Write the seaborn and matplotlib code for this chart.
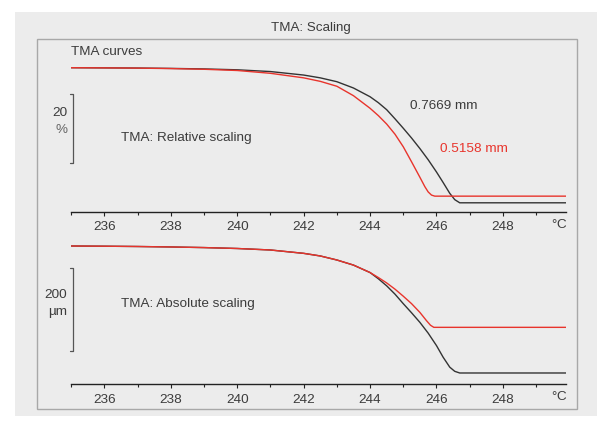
import numpy as np
import pandas as pd
import matplotlib
matplotlib.use("Agg")
import matplotlib.pyplot as plt
from matplotlib.patches import Rectangle
from matplotlib.lines import Line2D
from matplotlib.ticker import MultipleLocator
import seaborn as sns

# --- data (drop from start value) ---
temp_rel_black = [235, 236, 237, 238, 239, 240, 241, 242, 242.5, 243, 243.5, 244, 244.25, 244.5,
                  244.75, 245.0, 245.25, 245.5, 245.75, 246.0, 246.2, 246.4, 246.55, 246.7, 247, 248, 249.9]
rel_black = [0, 0.05, 0.1, 0.2, 0.35, 0.6, 1.1, 2.1, 2.9, 4.0, 5.8, 8.3, 10.0, 12.0,
             14.6, 17.3, 20.1, 23.1, 26.3, 29.8, 32.8, 35.9, 37.7, 38.6, 38.6, 38.6, 38.6]

temp_rel_red = [235, 236, 237, 238, 239, 240, 241, 242, 242.5, 243, 243.5, 244, 244.25, 244.5,
                244.75, 245.0, 245.25, 245.5, 245.65, 245.75, 245.85, 245.95, 246.2, 247, 248, 249.9]
rel_red = [0, 0.05, 0.12, 0.25, 0.45, 0.8, 1.6, 2.9, 3.9, 5.3, 8.0, 11.6, 13.7, 16.1,
           19.0, 22.6, 26.9, 31.3, 34.0, 35.5, 36.4, 36.7, 36.7, 36.7, 36.7, 36.7]

temp_abs_black = [235, 236, 237, 238, 239, 240, 241, 242, 242.5, 243, 243.5, 244, 244.25, 244.5,
                  244.75, 245.0, 245.25, 245.5, 245.75, 246.0, 246.2, 246.4, 246.55, 246.7, 247, 248, 249.9]
abs_black = [0, 0.5, 1.2, 2.3, 3.8, 6.0, 9.6, 17.7, 24, 33.7, 46, 64, 79, 96,
             116, 139, 161, 184, 210, 240, 268, 292, 302, 306, 306, 306, 306]

temp_abs_red = [235, 236, 237, 238, 239, 240, 241, 242, 242.5, 243, 243.5, 244, 244.25, 244.5,
                244.75, 245.0, 245.25, 245.5, 245.7, 245.82, 245.92, 246.2, 247, 248, 249.9]
abs_red = [0, 0.5, 1.2, 2.3, 3.8, 6.0, 9.6, 17.7, 24, 33.7, 46, 64, 76, 89,
           104, 121, 139, 160, 180, 191, 196, 196, 196, 196, 196]

x_major = [236, 238, 240, 242, 244, 246, 248]
labels = ["0.7669 mm", "0.5158 mm"]

BLACK = "#333333"
RED = "#e8342c"
GREY_TXT = "#3c3c3c"
BG = "#ececec"
FS = 9.7

sns.set_style("white")
plt.rcParams["font.family"] = ["Liberation Sans", "DejaVu Sans"]

W, H = 603, 426
fig = plt.figure(figsize=(W / 100, H / 100), dpi=100, facecolor="white")


def fx(x):
    return x / W


def fy(y):
    return 1 - y / H


# backgrounds
fig.patches.append(Rectangle((fx(15), fy(416)), fx(597) - fx(15), fy(12) - fy(416),
                             transform=fig.transFigure, facecolor=BG, edgecolor="none", zorder=-2))
fig.patches.append(Rectangle((fx(36.5), fy(409)), fx(576.5) - fx(36.5), fy(39) - fy(409),
                             transform=fig.transFigure, facecolor=BG, edgecolor="#a8a8a8",
                             linewidth=1.0, zorder=-1))

rel_df = pd.concat([
    pd.DataFrame({"T": temp_rel_black, "v": -np.array(rel_black), "s": labels[0]}),
    pd.DataFrame({"T": temp_rel_red, "v": -np.array(rel_red), "s": labels[1]}),
])
abs_df = pd.concat([
    pd.DataFrame({"T": temp_abs_black, "v": -np.array(abs_black), "s": labels[0]}),
    pd.DataFrame({"T": temp_abs_red, "v": -np.array(abs_red), "s": labels[1]}),
])

x_left, x_right = 71.2, 566
ax_top = fig.add_axes([fx(x_left), fy(211.7), fx(x_right) - fx(x_left), fy(50) - fy(211.7)])
ax_bot = fig.add_axes([fx(x_left), fy(384.3), fx(x_right) - fx(x_left), fy(235) - fy(384.3)])

# pixel scale: top 3.5 px per %, start at y=67.7 ; bottom 83 px per 200 um, start at y=246
top_ylim = (-(211.7 - 67.7) / 3.5, (67.7 - 50) / 3.5)
bot_ylim = (-(384.3 - 246) * 200 / 83, (246 - 235) * 200 / 83)

for ax, df, ylim in [(ax_top, rel_df, top_ylim), (ax_bot, abs_df, bot_ylim)]:
    ax.set_zorder(3)
    ax.set_facecolor("none")
    sns.lineplot(data=df, x="T", y="v", hue="s", palette=[BLACK, RED], sort=False,
                 linewidth=1.0, legend=False, ax=ax)
    ax.set_xlim(235, 249.9)
    ax.set_ylim(*ylim)
    for side in ["top", "left", "right"]:
        ax.spines[side].set_visible(False)
    ax.spines["bottom"].set_color("#222222")
    ax.spines["bottom"].set_linewidth(1.0)
    ax.set_xticks(x_major)
    ax.xaxis.set_minor_locator(MultipleLocator(1))
    ax.tick_params(axis="x", which="both", direction="out", length=3, width=0.8,
                   color="#222222", labelsize=FS, labelcolor=GREY_TXT, pad=4, bottom=True)
    ax.tick_params(axis="x", which="minor", length=2.5)
    ax.set_yticks([])
    ax.set_xlabel("")
    ax.set_ylabel("")

ftext_kw = dict(va="center", fontsize=FS, color=GREY_TXT)
for y in (225, 397.5):
    fig.text(fx(557), fy(y), "°", ha="right", **ftext_kw)
    fig.text(fx(566), fy(y), "C", ha="right", **ftext_kw)


def bracket(y0, y1, x=73.3):
    pts_x = [fx(x - 3), fx(x), fx(x), fx(x - 3)]
    pts_y = [fy(y0), fy(y0), fy(y1), fy(y1)]
    fig.add_artist(Line2D(pts_x, pts_y, transform=fig.transFigure, color="#555555", linewidth=0.9))


bracket(93.5, 162.7)
bracket(267.7, 351)


def ftext(x, y, s, **kw):
    kw.setdefault("fontsize", FS)
    kw.setdefault("color", GREY_TXT)
    fig.text(fx(x), fy(y), s, va="center", **kw)


ftext(311, 28, "TMA: Scaling", ha="center", fontsize=9.6)
ftext(71, 52, "TMA curves", ha="left")
ftext(67, 113, "20", ha="right")
ftext(67, 130, "%", ha="right", color="#666666")
ftext(121, 138, "TMA: Relative scaling", ha="left")
ftext(410, 106, labels[0], ha="left")
ftext(440, 149, labels[1], ha="left", color=RED)
ftext(67, 295, "200", ha="right")
ftext(67, 312, "µm", ha="right")
ftext(121, 304, "TMA: Absolute scaling", ha="left")

fig.savefig("out.png", dpi=100, facecolor="white")
